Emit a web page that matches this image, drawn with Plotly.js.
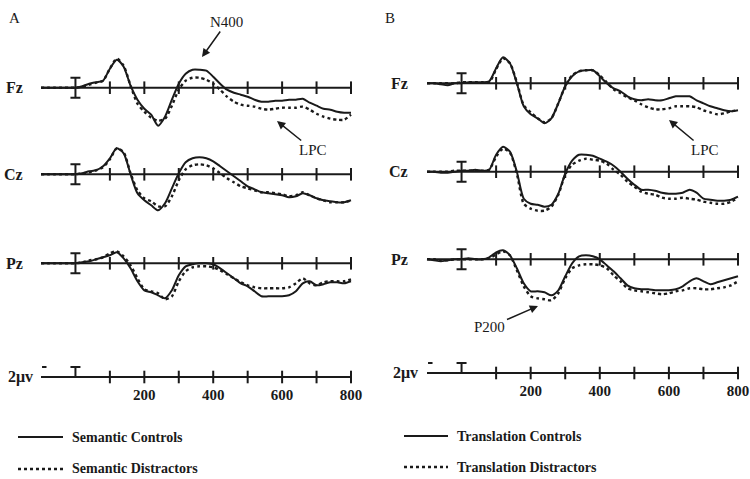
<!DOCTYPE html>
<html>
<head>
<meta charset="utf-8">
<script src="https://cdn.plot.ly/plotly-3.0.1.min.js"></script>
<style>
html, body { margin: 0; padding: 0; background: #fff; }
#plot { width: 750px; height: 479px; }
</style>
</head>
<body>
<div id="plot"></div>
<script>
// time in ms, amplitude in microvolts (negative plotted up)
var times = [-100,-80,-60,-40,-20,0,20,40,60,80,100,120,140,160,180,200,220,240,260,280,300,320,340,360,380,400,420,440,460,480,500,520,540,560,580,600,620,640,660,680,700,720,740,760,780,800];
var tickTimes = [100,200,300,400,500,600,700,800];
var tickLabels = [200,400,600,800];
var channels = ["Fz", "Cz", "Pz"];
var calibUv = 2;

// panel A: semantic
var semCtrlFz = [0,0,0,0,0,0,-0.3,-0.8,-1.1,-1.4,-3.8,-5.6,-4.2,-0.4,2.4,4.2,5.4,7.6,5.8,2.4,-0.8,-2.8,-3.6,-3.6,-3.4,-2.2,-0.8,0.4,1.0,1.4,1.8,2.4,2.8,2.8,2.6,2.6,2.4,2.4,2.2,3.0,3.6,4.2,4.4,4.8,5.0,5.0];
var semDistFz = [0,0,0,0,0,0,-0.2,-0.6,-1.0,-1.4,-3.8,-5.8,-4.4,-0.4,3.2,4.8,6.0,6.6,6.2,3.6,0.4,-1.4,-2.0,-2.0,-1.6,-0.8,0.4,1.8,2.8,3.4,3.6,3.8,4.2,4.4,4.2,4.0,4.0,4.0,3.8,4.4,5.2,5.8,6.2,6.4,6.4,5.4];
var semCtrlCz = [0,0,0,0,0,0,-0.2,-0.6,-0.8,-1.6,-3.2,-5.2,-4.2,0,3.8,5.2,6.2,7.2,5.8,2.8,-0.2,-2.4,-3.2,-3.4,-3.2,-2.6,-1.6,-0.6,0.4,1.4,2.4,3.0,3.6,3.8,4.0,4.2,4.6,4.4,3.8,4.2,4.8,5.2,5.4,5.6,5.6,5.2];
var semDistCz = [0,0,0,0,0,0,-0.2,-0.4,-0.8,-1.4,-3.0,-5.2,-4.4,-0.2,3.2,4.8,5.4,6.4,6.4,4.4,1.2,-1.0,-1.8,-2.0,-1.8,-1.2,-0.2,0.8,1.6,2.4,2.8,3.2,3.6,3.6,3.8,4.0,4.4,4.2,3.6,4.2,4.8,5.2,5.6,5.6,5.6,5.2];
var semCtrlPz = [0,0,0,0,0,0,-0.2,-0.4,-0.8,-1.2,-1.6,-2.2,-1.0,1.0,3.6,5.4,5.8,6.4,7.0,5.4,2.4,0.6,0.2,0,0,0.2,1.0,2.0,3.0,4.0,4.6,5.6,6.6,6.6,6.6,6.6,6.4,5.6,4.0,3.6,4.4,4.2,3.8,3.8,4.0,3.6];
var semDistPz = [0,0,0,0,0,0,-0.2,-0.6,-0.8,-1.2,-2.0,-2.4,-1.4,0.4,3.0,5.2,5.6,6.0,7.2,6.6,3.6,1.6,0.8,0.6,0.6,0.8,1.4,2.2,3.0,3.8,4.4,4.8,5.0,5.0,5.0,5.0,4.8,4.0,3.0,4.0,4.4,3.8,3.6,3.6,3.6,3.2];

// panel B: translation
var trCtrlFz = [0,0,0.2,0.4,0,0,-0.2,-0.2,-0.2,-0.4,-3.0,-5.2,-4.0,0,4.6,6.2,7.0,8.0,7.0,4.0,0.6,-1.4,-2.4,-2.6,-2.6,-1.4,0,1.0,1.6,2.6,3.2,3.4,3.2,3.4,3.4,3.0,2.6,2.6,2.6,3.4,4.0,4.6,5.0,5.4,5.6,5.4];
var trDistFz = [0,0,0,0,0,-0.2,-0.2,-0.2,-0.2,-0.2,-2.8,-5.0,-4.0,-0.2,4.4,5.8,7.0,7.8,7.0,4.0,0.6,-1.6,-2.4,-2.6,-2.6,-1.6,-0.2,1.2,2.0,2.8,3.4,4.2,4.8,5.2,5.2,5.0,4.6,4.6,4.6,4.8,5.4,5.8,6.2,6.0,5.6,5.4];
var trCtrlCz = [0,0,0.2,0.2,0,-0.2,-0.2,-0.4,-0.2,-0.4,-3.4,-5.0,-4.0,0,5.4,6.4,6.6,7.0,6.6,4.4,0.4,-2.2,-3.4,-3.4,-3.2,-2.6,-2.0,-1.2,0,1.4,2.6,3.6,3.6,3.8,4.2,4.4,4.4,4.2,3.6,4.2,5.4,5.6,5.8,5.8,5.6,5.0];
var trDistCz = [0,0,0,0,-0.2,-0.2,-0.2,-0.2,-0.2,-0.4,-3.0,-4.6,-3.8,0.4,6.4,7.4,7.8,7.8,7.0,4.6,0.6,-1.4,-2.2,-2.6,-2.4,-2.2,-1.6,-0.4,0.6,2.0,3.0,4.0,4.4,4.6,5.2,5.4,5.4,5.2,5.4,5.6,6.0,6.2,6.4,6.4,6.0,5.2];
var trCtrlPz = [0,0.2,0.4,0.2,0,0,-0.2,0,0,-0.4,-1.4,-1.8,-0.8,1.8,4.8,6.4,6.4,6.6,7.2,6.2,3.4,0.8,-0.6,-0.8,-0.6,0,1.2,2.4,3.8,5.2,5.8,6.0,6.0,6.2,6.2,6.2,6.0,5.4,4.4,3.8,4.4,5.0,4.6,4.2,3.8,3.4];
var trDistPz = [0,0,0.2,0.2,0,0,0,0,0,-0.2,-1.0,-1.6,-0.8,2.2,5.4,7.4,7.8,8.0,8.2,6.8,3.8,1.8,1.2,1.0,1.0,1.2,1.8,3.2,4.4,5.8,6.2,6.4,6.6,6.8,7.0,6.8,6.4,6.2,5.8,5.8,6.0,6.0,5.8,5.6,5.2,4.4];

var ink = "#1a1a1a";
var serif = "Liberation Serif, Times New Roman, serif";

function wave(y, xa, ya, dotted) {
    return {
        x: times, y: y, xaxis: xa, yaxis: ya,
        mode: "lines", hoverinfo: "skip", showlegend: false,
        line: { color: ink, width: dotted ? 2.4 : 2, dash: dotted ? "dot" : "solid", shape: "spline", smoothing: 0.7 }
    };
}

function baseline(xa, ya, bar) {
    var out = [];
    out.push({
        x: [times[0], times[times.length - 1]], y: [0, 0], xaxis: xa, yaxis: ya,
        mode: "lines", hoverinfo: "skip", showlegend: false,
        line: { color: ink, width: 2 }
    });
    out.push({
        x: tickTimes, y: tickTimes.map(function () { return 0; }), xaxis: xa, yaxis: ya,
        mode: "markers", hoverinfo: "skip", showlegend: false, cliponaxis: false,
        marker: { symbol: "line-ns-open", size: 9, color: ink, line: { width: 2, color: ink } }
    });
    var err = bar === "full"
        ? { type: "data", symmetric: true, array: [calibUv], thickness: 2, width: 5, color: ink }
        : { type: "data", symmetric: false, array: [0], arrayminus: [calibUv], thickness: 2, width: 5, color: ink };
    out.push({
        x: [0], y: [0], xaxis: xa, yaxis: ya,
        mode: "markers", hoverinfo: "skip", showlegend: false,
        marker: { size: 2, color: "rgba(0,0,0,0)" },
        error_y: err
    });
    return out;
}

var panels = [
    { xa: "x", ys: ["y", "y2", "y3", "y4"], ctrl: [semCtrlFz, semCtrlCz, semCtrlPz], dist: [semDistFz, semDistCz, semDistPz] },
    { xa: "x2", ys: ["y5", "y6", "y7", "y8"], ctrl: [trCtrlFz, trCtrlCz, trCtrlPz], dist: [trDistFz, trDistCz, trDistPz] }
];

var data = [];
panels.forEach(function (p) {
    for (var i = 0; i < 3; i++) {
        data = data.concat(baseline(p.xa, p.ys[i], "full"));
        data.push(wave(p.dist[i], p.xa, p.ys[i], true));
        data.push(wave(p.ctrl[i], p.xa, p.ys[i], false));
    }
    data = data.concat(baseline(p.xa, p.ys[3], "half"));
});

var domainsA = [[0.72296, 0.88998], [0.54217, 0.70919], [0.35637, 0.52338], [0.20877, 0.25470]];
var domainsB = [[0.73215, 0.89916], [0.54760, 0.71461], [0.36472, 0.53173], [0.21712, 0.26305]];

function xAxis(domain, anchor) {
    return {
        domain: domain, range: [-105, 805], anchor: anchor,
        showgrid: false, zeroline: false, showline: false, fixedrange: true,
        tickvals: tickLabels, ticks: "outside", ticklen: 2, tickcolor: "rgba(0,0,0,0)",
        tickfont: { family: serif, size: 15, weight: "bold", color: ink }
    };
}

var layout = {
    width: 750, height: 479,
    margin: { l: 0, r: 0, t: 0, b: 0 },
    paper_bgcolor: "#fff", plot_bgcolor: "rgba(0,0,0,0)",
    showlegend: false,
    xaxis: xAxis([0.05237, 0.47029], "y4"),
    xaxis2: xAxis([0.56703, 0.98631], "y8"),
    annotations: [], shapes: []
};

function yAxis(domain, anchor, scaleRow) {
    return { domain: domain, anchor: anchor, range: scaleRow ? [0.4, -4] : [9, -7], visible: false, fixedrange: true };
}
for (var i = 0; i < 4; i++) {
    layout[i === 0 ? "yaxis" : "yaxis" + (i + 1)] = yAxis(domainsA[i], "x", i === 3);
    layout["yaxis" + (i + 5)] = yAxis(domainsB[i], "x2", i === 3);
}

function label(text, x, yref, size) {
    return { text: text, xref: "paper", x: x, xanchor: "right", yref: yref, y: 0, yanchor: "middle",
        showarrow: false, font: { family: serif, size: size, color: ink } };
}
channels.forEach(function (ch, i) {
    layout.annotations.push(label("<b>" + ch + "</b>", 0.03333, panels[0].ys[i], 16));
    layout.annotations.push(label("<b>" + ch + "</b>", 0.54667, panels[1].ys[i], 16));
});
layout.annotations.push(label("<b>2μv</b>", 0.04667, "y4", 16));
layout.annotations.push(label("<b>2μv</b>", 0.56, "y8", 16));

// polarity dash next to the scale
["y4", "y8"].forEach(function (ya, k) {
    layout.shapes.push({ type: "line", xref: k ? "x2" : "x", yref: ya, x0: -97, x1: -84, y0: -2, y1: -2,
        line: { color: ink, width: 2 } });
});

// panel letters
layout.annotations.push({ text: "A", xref: "paper", yref: "paper", x: 0.00933, y: 0.9833, showarrow: false,
    font: { family: serif, size: 15, color: ink } });
layout.annotations.push({ text: "B", xref: "paper", yref: "paper", x: 0.52, y: 0.9833, showarrow: false,
    font: { family: serif, size: 15, color: ink } });

// component callouts
function callout(text, x, y, ax, ay) {
    return { text: text, xref: "paper", yref: "paper", x: x, y: y, ax: ax, ay: ay,
        showarrow: true, arrowhead: 2, arrowsize: 1.1, arrowwidth: 1.5, arrowcolor: ink, standoff: 0,
        font: { family: serif, size: 15, color: ink } };
}
layout.annotations.push(callout("N400", 0.26933, 0.88100, 25, -35));
layout.annotations.push(callout("LPC", 0.36933, 0.74739, 36, 29));
layout.annotations.push(callout("LPC", 0.892, 0.74948, 36, 30));
layout.annotations.push(callout("P200", 0.71733, 0.36117, -48, 21));

// legends
function legendRow(x0, x1, y, dotted, text) {
    layout.shapes.push({ type: "line", xref: "paper", yref: "paper", x0: x0, x1: x1, y0: y, y1: y,
        line: { color: ink, width: dotted ? 2.4 : 2, dash: dotted ? "dot" : "solid" } });
    layout.annotations.push({ text: "<b>" + text + "</b>", xref: "paper", yref: "paper", x: x1 + 0.0093, y: y,
        xanchor: "left", yanchor: "middle", showarrow: false, font: { family: serif, size: 14, color: ink } });
}
legendRow(0.024, 0.084, 0.08768, false, "Semantic Controls");
legendRow(0.024, 0.084, 0.02088, true, "Semantic Distractors");
legendRow(0.53867, 0.59733, 0.08977, false, "Translation Controls");
legendRow(0.53867, 0.59733, 0.02505, true, "Translation Distractors");

Plotly.newPlot("plot", data, layout, { displayModeBar: false, staticPlot: true });
</script>
</body>
</html>
